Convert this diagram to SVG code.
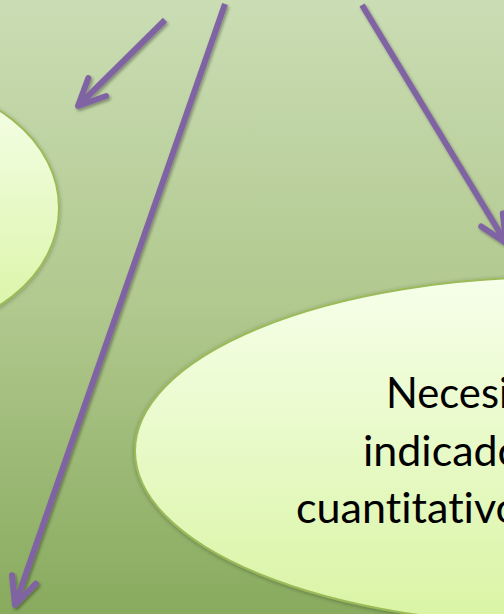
<svg xmlns="http://www.w3.org/2000/svg" width="504" height="614" viewBox="0 0 504 614">
  <defs>
    <linearGradient id="bg" x1="0" y1="0" x2="0" y2="1">
      <stop offset="0" stop-color="#CADDB4"/>
      <stop offset="0.5" stop-color="#B1C88E"/>
      <stop offset="1" stop-color="#88AB5E"/>
    </linearGradient>
    <linearGradient id="nodeFill" x1="0" y1="0" x2="0" y2="1">
      <stop offset="0" stop-color="#F6FFEA"/>
      <stop offset="1" stop-color="#D9F4A3"/>
    </linearGradient>
    <filter id="arrowShadow" filterUnits="userSpaceOnUse" x="0" y="0" width="504" height="614">
      <feDropShadow dx="1.5" dy="2" stdDeviation="1.5" flood-color="#000" flood-opacity="0.35"/>
    </filter>
    <filter id="nodeShadow" filterUnits="userSpaceOnUse" x="-200" y="0" width="1000" height="700">
      <feDropShadow dx="0" dy="1" stdDeviation="2" flood-color="#000" flood-opacity="0.3"/>
    </filter>
    <marker id="ah" markerUnits="userSpaceOnUse" orient="auto" overflow="visible" markerWidth="1" markerHeight="1" refX="0" refY="0">
      <path d="M-27,-12.6 L0,0 L-27,12.6" fill="none" stroke="#8064A2" stroke-width="6" stroke-linecap="round" stroke-linejoin="round"/>
    </marker>
    <style>
      .node { fill: url(#nodeFill); stroke: #9BBB59; stroke-width: 2; filter: url(#nodeShadow); }
      .conn { fill: none; stroke: #8064A2; stroke-width: 6; stroke-linecap: butt; marker-end: url(#ah); filter: url(#arrowShadow); }
      .label { font-family: Lato, "Liberation Sans", sans-serif; font-size: 42px; fill: #000; font-variant-ligatures: none; }
    </style>
  </defs>

  <rect x="0" y="0" width="504" height="614" fill="url(#bg)"/>

  <g id="node-left">
    <ellipse class="node" cx="-100" cy="208" rx="159" ry="125"/>
  </g>

  <g id="node-right">
    <ellipse class="node" cx="559" cy="451" rx="424" ry="174"/>
    <text class="label" x="386" y="408" textLength="123" lengthAdjust="spacingAndGlyphs">Necesi</text>
    <text class="label" x="363" y="466" textLength="159" lengthAdjust="spacingAndGlyphs">indicado</text>
    <text class="label" x="296" y="523" textLength="224" lengthAdjust="spacingAndGlyphs">cuantitativo</text>
  </g>

  <g id="connectors">
    <path class="conn" d="M165,20 L78,106"/>
    <path class="conn" d="M225,4 L15,605"/>
    <path class="conn" d="M362,5 L506,243"/>
  </g>
</svg>
